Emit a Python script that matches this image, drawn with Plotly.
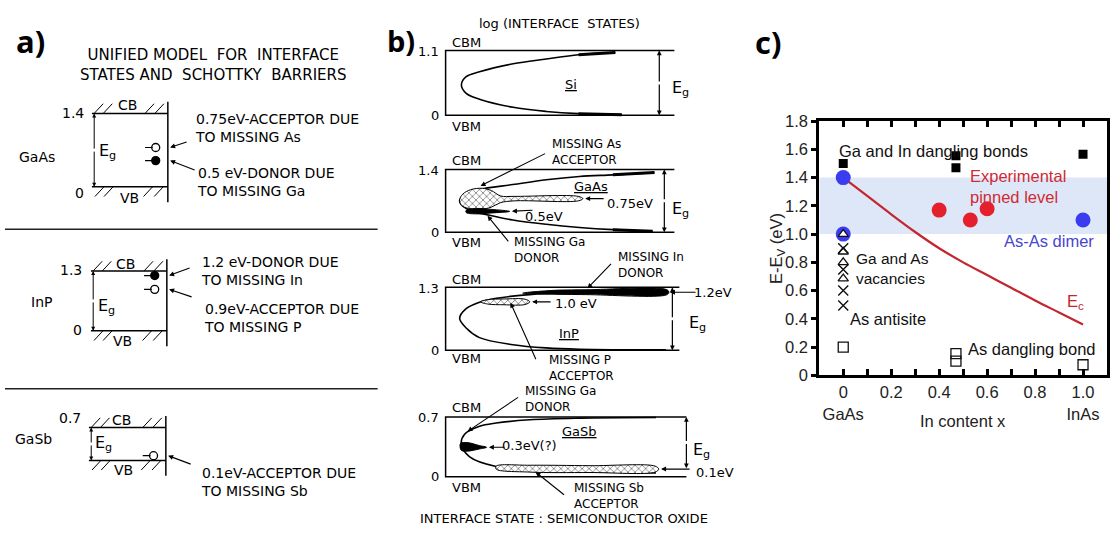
import plotly.graph_objects as go

W, H = 1110, 538
FA = "DejaVu Sans"
FC = "Liberation Sans, Arial, sans-serif"

# ======================= panel c data =======================
X_TICKS = [0.0, 0.1, 0.2, 0.3, 0.4, 0.5, 0.6, 0.7, 0.8, 0.9, 1.0]
X_TICKTEXT = ["0<br>GaAs", "", "0.2", "", "0.4", "", "0.6", "", "0.8", "", "1.0<br>InAs"]
Y_TICKS = [0.0, 0.2, 0.4, 0.6, 0.8, 1.0, 1.2, 1.4, 1.6, 1.8]
Y_TICKTEXT = ["0", "0.2", "0.4", "0.6", "0.8", "1.0", "1.2", "1.4", "1.6", "1.8"]
PINNED_BAND = [1.0, 1.4]

GA_IN_DB_X = [0.0, 0.47, 0.47, 1.0]          # Ga and In dangling bonds
GA_IN_DB_Y = [1.50, 1.555, 1.47, 1.565]
DIMER_X = [0.0, 0.0, 1.0]                    # As-As dimer
DIMER_Y = [1.40, 1.00, 1.10]
EXP_X = [0.40, 0.53, 0.60]                   # experimental pinned level
EXP_Y = [1.17, 1.10, 1.18]
VAC_X = [0.0, 0.0, 0.0, 0.0]                 # Ga and As vacancies
VAC_Y = [1.00, 0.875, 0.80, 0.685]
ANTI_X = [0.0, 0.0, 0.0, 0.0]                # As antisite
ANTI_Y = [0.90, 0.75, 0.60, 0.495]
AS_DB_X = [0.0, 0.47, 0.47, 1.0]             # As dangling bond
AS_DB_Y = [0.20, 0.153, 0.101, 0.075]
EC_X = [0.0, 0.1, 0.2, 0.3, 0.4, 0.5, 0.6, 0.7, 0.8, 0.9, 1.0]
EC_Y = [1.40, 1.27, 1.14, 1.015, 0.90, 0.80, 0.71, 0.62, 0.53, 0.445, 0.36]

# ======================= panel a data =======================
A_MATERIALS = ["GaAs", "InP", "GaSb"]
A_GAPS = [1.4, 1.3, 0.7]
A_GAP_TEXT = ["1.4", "1.3", "0.7"]
A_LEVELS = [[0.75, 0.5], [1.2, 0.9], [0.1]]
A_KIND = [["acceptor", "donor"], ["donor", "acceptor"], ["acceptor"]]
A_TEXT = [["0.75eV-ACCEPTOR DUE<br>TO MISSING As", "0.5 eV-DONOR DUE<br>TO MISSING Ga"],
          ["1.2 eV-DONOR DUE<br>TO MISSING In", "0.9eV-ACCEPTOR DUE<br>TO MISSING P"],
          ["0.1eV-ACCEPTOR DUE<br>TO MISSING Sb"]]

# ======================= panel b data =======================
B_MATERIALS = ["Si", "GaAs", "InP", "GaSb"]
B_GAPS = [1.1, 1.4, 1.3, 0.7]
B_GAP_TEXT = ["1.1", "1.4", "1.3", "0.7"]
# interface-state curves: x = log(interface states) (0..1 across box), y = energy (eV)
B_CURVE_L = [
    [0.742, 0.581, 0.440, 0.295, 0.148, 0.090, 0.069, 0.090, 0.148, 0.295, 0.440, 0.581, 0.770],
    [0.913, 0.731, 0.585, 0.440, 0.294, 0.148, 0.100, 0.061, 0.100, 0.192, 0.294, 0.440, 0.585, 0.731, 0.905],
    [0.943, 0.573, 0.459, 0.331, 0.217, 0.145, 0.088, 0.060, 0.088, 0.145, 0.288, 0.430, 0.573, 0.943],
    [0.874, 0.556, 0.349, 0.210, 0.141, 0.079, 0.065, 0.100, 0.210, 0.349, 0.556, 0.874],
]
B_CURVE_E = [
    [1.067, 1.030, 0.957, 0.875, 0.739, 0.657, 0.520, 0.372, 0.274, 0.136, 0.066, 0.028, 0.011],
    [1.330, 1.280, 1.243, 1.170, 1.063, 0.955, 0.880, 0.700, 0.500, 0.381, 0.274, 0.179, 0.108, 0.058, 0.022],
    [1.207, 1.193, 1.180, 1.140, 1.073, 0.993, 0.860, 0.660, 0.460, 0.260, 0.113, 0.047, 0.020, 0.007],
    [0.692, 0.685, 0.666, 0.628, 0.590, 0.497, 0.384, 0.233, 0.120, 0.083, 0.064, 0.045],
]
# cross-hatched (acceptor) regions and solid (donor) regions
B_HATCH = {
    1: ([0.061, 0.075, 0.11, 0.16, 0.20, 0.24, 0.30, 0.58, 0.60, 0.58, 0.30, 0.24, 0.20, 0.15, 0.10, 0.07],
        [0.72, 0.85, 0.95, 0.98, 0.93, 0.81, 0.80, 0.80, 0.75, 0.70, 0.70, 0.66, 0.56, 0.51, 0.53, 0.60]),
    2: ([0.15, 0.18, 0.25, 0.34, 0.36, 0.34, 0.25, 0.18],
        [1.00, 1.045, 1.06, 1.055, 1.00, 0.945, 0.94, 0.955]),
    3: ([0.21, 0.35, 0.60, 0.87, 0.885, 0.87, 0.60, 0.35, 0.21],
        [0.125, 0.135, 0.13, 0.125, 0.09, 0.055, 0.05, 0.055, 0.09]),
}
B_SOLID = {
    1: ([0.09, 0.13, 0.20, 0.28, 0.20, 0.13, 0.09],
        [0.49, 0.53, 0.51, 0.465, 0.43, 0.41, 0.44]),
    2: ([0.33, 0.45, 0.60, 0.945, 0.955, 0.945, 0.60, 0.45],
        [1.18, 1.235, 1.25, 1.255, 1.20, 1.145, 1.15, 1.16]),
    3: ([0.062, 0.09, 0.14, 0.17, 0.14, 0.09, 0.065],
        [0.39, 0.40, 0.365, 0.345, 0.325, 0.30, 0.31]),
}

# ======================= helpers =======================
fig = go.Figure()
annotations, shapes, axes = [], [], {}


def text_px(s, x, y, size=13, anchor="left", family=FA, color="black", angle=0):
    annotations.append(dict(text=s, x=x / W, y=1 - y / H, xref="paper", yref="paper",
                            xanchor=anchor, yanchor="middle", showarrow=False, textangle=angle,
                            align=anchor if anchor in ("left", "right") else "center",
                            font=dict(family=family, size=size, color=color)))


def arrow_px(x0, y0, x1, y1, width=1.1):
    annotations.append(dict(x=x1 / W, y=1 - y1 / H, xref="paper", yref="paper",
                            ax=x0 - x1, ay=y0 - y1, text="", showarrow=True,
                            arrowhead=2, arrowsize=0.9, arrowwidth=width, arrowcolor="black"))


def arrow_ax(n, x, y, dx, dy, width=1.1):
    annotations.append(dict(x=x, y=y, xref=f"x{n}", yref=f"y{n}", ax=dx, ay=dy, text="",
                            showarrow=True, arrowhead=2, arrowsize=0.9, arrowwidth=width,
                            arrowcolor="black"))


def arrow_data(n, x0, y0, x1, y1, width=1.1):
    annotations.append(dict(x=x1, y=y1, xref=f"x{n}", yref=f"y{n}", ax=x0, ay=y0,
                            axref=f"x{n}", ayref=f"y{n}", text="", showarrow=True,
                            arrowhead=2, arrowsize=0.8, arrowwidth=width, arrowcolor="black"))


def add_axes(n, l, r, t, b, gap, pad_t, pad_b, pad_l, pad_r):
    s = (b - t) / gap
    w = r - l
    axes[f"xaxis{n}"] = dict(domain=[(l - pad_l) / W, (r + pad_r) / W],
                             range=[-pad_l / w, 1 + pad_r / w], visible=False,
                             anchor=f"y{n}", fixedrange=True)
    axes[f"yaxis{n}"] = dict(domain=[1 - (b + pad_b) / H, 1 - (t - pad_t) / H],
                             range=[-pad_b / s, gap + pad_t / s], visible=False,
                             anchor=f"x{n}", fixedrange=True)
    return s, w


def line(n, xs, ys, width=1.5, color="black", shape="linear"):
    fig.add_trace(go.Scatter(x=xs, y=ys, mode="lines",
                             line=dict(color=color, width=width, shape=shape),
                             xaxis=f"x{n}", yaxis=f"y{n}", showlegend=False,
                             hoverinfo="skip", connectgaps=False))


# ======================= panel a =======================
A_GEOM = [(92, 168, 108, 184), (91, 167, 271, 333), (89, 166, 433, 467)]
A_NAME_POS = [(37, 153), (42, 303), (34, 445)]
A_EG_POS = [(97, 147), (96, 308), (93, 450)]
A_GAPTXT_POS = [(86, 108), (84, 270), (83, 423)]
A_ZERO_POS = [(86, 190), (84, 332), None]
A_CB_POS = [(128, 99), (126, 264), (122, 425)]
A_VB_POS = [(130, 196), (123, 344), (124, 477)]
A_LABEL_POS = [[(193, 123), (195, 179)],
               [(199, 271), (202, 320)],
               [(199, 489)]]
A_ARROW_OFF = [[(18, -6), (26, 10)], [(22, -8), (24, 8)], [(24, 9)]]
A_HATCH_TOP = [0.03, 0.15, 0.70, 0.83]
A_HATCH_BOT = [0.04, 0.16, 0.68, 0.82]

text_px("<b>a)</b>", 14, 33, size=31, family="Open Sans")
text_px("UNIFIED MODEL  FOR  INTERFACE<br>STATES AND  SCHOTTKY  BARRIERS", 214, 58,
        size=15, anchor="center")

for i in range(3):
    n = 2 + i
    l, r, t, b = A_GEOM[i]
    gap = A_GAPS[i]
    s, w = add_axes(n, l, r, t, b, gap, 16, 20, 8, 8)
    hh, dx = 10 / s, 9 / w
    line(n, [0, 1], [gap, gap])
    line(n, [0, 1], [0, 0])
    line(n, [1, 1], [-16 / s, gap + 12 / s])
    hx, hy = [], []
    for xs in A_HATCH_TOP:
        hx += [xs, xs + dx, None]
        hy += [gap, gap + hh, None]
    for xs in A_HATCH_BOT:
        hx += [xs, xs + dx, None]
        hy += [-hh, 0, None]
    line(n, hx, hy, width=1)
    mid = gap / 2
    arrow_data(n, 0.03, mid, 0.03, gap, width=1)
    arrow_data(n, 0.03, mid, 0.03, 0, width=1)
    for j, lev in enumerate(A_LEVELS[i]):
        line(n, [0.70, 0.80], [lev, lev], width=1.2)
        filled = A_KIND[i][j] == "donor"
        fig.add_trace(go.Scatter(x=[0.84], y=[lev], mode="markers",
                                 marker=dict(symbol="circle" if filled else "circle-open",
                                             size=8, color="black", line=dict(width=1.3, color="black")),
                                 xaxis=f"x{n}", yaxis=f"y{n}", showlegend=False, hoverinfo="skip"))
        ox, oy = A_ARROW_OFF[i][j]
        arrow_ax(n, 1.03, lev, ox, oy)
        lx, ly = A_LABEL_POS[i][j]
        text_px(A_TEXT[i][j], lx, ly, size=14)
    text_px(A_MATERIALS[i], *A_NAME_POS[i], size=14, anchor="center")
    text_px("E<sub>g</sub>", *A_EG_POS[i], size=16)
    text_px(A_GAP_TEXT[i], *A_GAPTXT_POS[i], size=14, anchor="right")
    if A_ZERO_POS[i]:
        text_px("0", *A_ZERO_POS[i], size=14, anchor="right")
    text_px("CB", *A_CB_POS[i], size=14, anchor="center")
    text_px("VB", *A_VB_POS[i], size=14, anchor="center")

for yy in (228, 393):
    shapes.append(dict(type="line", xref="paper", yref="paper", x0=5 / W, x1=378 / W,
                       y0=1 - yy / H, y1=1 - yy / H, line=dict(color="#222", width=1.5)))

# ======================= panel b =======================
B_GEOM = [(446, 675, 43, 110), (446, 675, 166, 231), (446, 680, 288, 353), (446, 687, 422, 484)]
B_EG_X = [0.934, 0.956, 0.97, 1.0]
B_EG_LO = [0.0, 0.0, 0.0, 0.1]
B_CBM_Y = [35, 157, 280, 412]
B_VBM_Y = [122, 242, 362, 495]
B_NAME_POS = [(572, 78), (592, 184), (570, 336), (580, 437)]
B_EGTXT_POS = [(671, 82), (671, 207), (688, 325), (692, 457)]

text_px("<b>b)</b>", 385, 33, size=29, family="Open Sans")
text_px("log (INTERFACE  STATES)", 560, 15, size=13, anchor="center")

for i in range(4):
    n = 5 + i
    l, r, t, b = B_GEOM[i]
    gap = B_GAPS[i]
    s, w = add_axes(n, l, r, t, b, gap, 5, 5, 5, 5)
    line(n, [1, 0, 0, 1], [gap, gap, 0, 0], width=1.5)
    line(n, B_CURVE_L[i], B_CURVE_E[i], width=1.6, shape="spline")
    if i in (0, 1):
        line(n, B_CURVE_L[i][:2], B_CURVE_E[i][:2], width=3)
        line(n, B_CURVE_L[i][-2:], B_CURVE_E[i][-2:], width=3)
    if i in B_HATCH:
        hxs, hys = B_HATCH[i]
        fig.add_trace(go.Scatter(x=hxs + hxs[:1], y=hys + hys[:1], mode="lines", fill="toself",
                                 fillcolor="white", line=dict(color="black", width=1, shape="spline"),
                                 fillpattern=dict(shape="x", fgcolor="black", bgcolor="white",
                                                  size=5, solidity=0.3),
                                 xaxis=f"x{n}", yaxis=f"y{n}", showlegend=False, hoverinfo="skip"))
    if i in B_SOLID:
        sxs, sys_ = B_SOLID[i]
        fig.add_trace(go.Scatter(x=sxs + sxs[:1], y=sys_ + sys_[:1], mode="lines", fill="toself",
                                 fillcolor="black", line=dict(color="black", width=1, shape="spline"),
                                 xaxis=f"x{n}", yaxis=f"y{n}", showlegend=False, hoverinfo="skip"))
    mid = (gap + B_EG_LO[i]) / 2
    arrow_data(n, B_EG_X[i], mid, B_EG_X[i], gap, width=1.2)
    arrow_data(n, B_EG_X[i], mid, B_EG_X[i], B_EG_LO[i], width=1.2)
    text_px("CBM", 467, B_CBM_Y[i], size=13, anchor="center")
    text_px("VBM", 467, B_VBM_Y[i], size=13, anchor="center")
    text_px(B_GAP_TEXT[i], 441, t + 1, size=13, anchor="right")
    text_px("0", 441, b, size=13, anchor="right")
    text_px("<u>" + B_MATERIALS[i] + "</u>", *B_NAME_POS[i], size=13, anchor="center")
    text_px("E<sub>g</sub>", *B_EGTXT_POS[i], size=16)

# energy value labels with arrows pointing at the states
arrow_ax(6, 0.61, 0.75, 20, 0)
text_px("0.75eV", 606, 201, size=13)
arrow_ax(6, 0.29, 0.47, 22, -1)
text_px("0.5eV", 523, 215, size=13)
arrow_ax(7, 0.37, 1.0, 20, 0)
text_px("1.0 eV", 553, 305, size=13)
arrow_ax(7, 0.96, 1.2, 27, 0)
text_px("1.2eV", 693, 293, size=13)
arrow_ax(8, 0.18, 0.345, 17, 0)
text_px("0.3eV(?)", 500, 452, size=13)
arrow_ax(8, 0.895, 0.09, 30, 0)
text_px("0.1eV", 695, 480, size=13)

text_px("MISSING As<br>ACCEPTOR", 550, 148, size=12)
arrow_px(547, 150, 481, 183)
text_px("MISSING Ga<br>DONOR", 512, 249, size=12)
arrow_px(510, 241, 488, 214)
text_px("MISSING In<br>DONOR", 617, 265, size=12)
arrow_px(613, 263, 588, 289)
text_px("MISSING P<br>ACCEPTOR", 547, 371, size=12)
arrow_px(537, 362, 511, 304)
text_px("MISSING Ga<br>DONOR", 523, 404, size=12)
arrow_px(520, 402, 468, 437)
text_px("MISSING Sb<br>ACCEPTOR", 573, 504, size=12)
arrow_px(566, 503, 536, 479)
text_px("INTERFACE STATE : SEMICONDUCTOR OXIDE", 565, 527, size=13, anchor="center")

# ======================= panel c =======================
shapes.append(dict(type="rect", xref="x", yref="y", x0=-0.1, x1=1.1,
                   y0=PINNED_BAND[0], y1=PINNED_BAND[1], fillcolor="#dde7f7",
                   line=dict(width=0), layer="below"))

common = dict(xaxis="x", yaxis="y", showlegend=False, hoverinfo="skip")
fig.add_trace(go.Scatter(x=EC_X, y=EC_Y, mode="lines",
                         line=dict(color="#c3262e", width=2.2, shape="spline"), **common))
fig.add_trace(go.Scatter(x=GA_IN_DB_X, y=GA_IN_DB_Y, mode="markers",
                         marker=dict(symbol="square", size=9, color="black"), **common))
fig.add_trace(go.Scatter(x=DIMER_X, y=DIMER_Y, mode="markers",
                         marker=dict(symbol="circle", size=15, color="#3b3cf0"), **common))
fig.add_trace(go.Scatter(x=VAC_X, y=VAC_Y, mode="markers",
                         marker=dict(symbol="triangle-up", size=9, color="white",
                                     line=dict(color="#111", width=1.3)), **common))
fig.add_trace(go.Scatter(x=ANTI_X, y=ANTI_Y, mode="markers",
                         marker=dict(symbol="x-thin", size=10, color="#111",
                                     line=dict(color="#111", width=1.4)), **common))
fig.add_trace(go.Scatter(x=EXP_X, y=EXP_Y, mode="markers",
                         marker=dict(symbol="circle", size=15, color="#e3202c"), **common))
fig.add_trace(go.Scatter(x=AS_DB_X, y=AS_DB_Y, mode="markers",
                         marker=dict(symbol="square-open", size=10, color="#111",
                                     line=dict(color="#111", width=1.3)), **common))

axes["xaxis"] = dict(domain=[820 / W, 1108 / W], range=[-0.1, 1.1], anchor="y",
                     tickmode="array", tickvals=X_TICKS, ticktext=X_TICKTEXT,
                     ticks="inside", ticklen=6, tickwidth=2.5, tickcolor="black",
                     showline=True, linewidth=3, linecolor="black", mirror="ticks",
                     showgrid=False, zeroline=False, fixedrange=True,
                     tickfont=dict(family=FC, size=16.5, color="#222"))
axes["yaxis"] = dict(domain=[1 - 379 / H, 1 - 116 / H], range=[0, 1.8], anchor="x",
                     tickmode="array", tickvals=Y_TICKS, ticktext=Y_TICKTEXT,
                     ticks="outside", ticklen=5, tickwidth=2.5, tickcolor="black",
                     showline=True, linewidth=3, linecolor="black", mirror=True,
                     showgrid=False, zeroline=False, fixedrange=True,
                     tickfont=dict(family=FC, size=16.5, color="#222"))


def text_c(s, x, y, color="#111", anchor="left", size=16.5):
    annotations.append(dict(text=s, x=x, y=y, xref="x", yref="y", xanchor=anchor,
                            yanchor="middle", showarrow=False, align="left",
                            font=dict(family=FC, size=size, color=color)))


text_c("Ga and In dangling bonds", -0.025, 1.59)
text_c("Experimental<br>pinned level", 0.52, 1.335, color="#d02a34")
text_c("As-As dimer", 1.056, 0.95, color="#4646cf", anchor="right")
text_c("Ga and As<br>vacancies", 0.045, 0.755, size=15.5)
text_c("As antisite", 0.02, 0.40)
text_c("As dangling bond", 0.512, 0.185)
text_c("E<sub>c</sub>", 0.925, 0.52, color="#c3262e")

text_px("<b>c)</b>", 754, 34, size=31, family="Open Sans")
text_px("In content x", 964, 426, size=16.5, anchor="center", family=FC, color="#222")
text_px("E-E<sub>V</sub> (eV)", 777, 248, size=16.5, anchor="center", family=FC, color="#222", angle=-90)

fig.update_layout(width=W, height=H, margin=dict(l=0, r=0, t=0, b=0),
                  paper_bgcolor="white", plot_bgcolor="rgba(0,0,0,0)",
                  annotations=annotations, shapes=shapes, showlegend=False, **axes)
fig.write_html("out.html")
